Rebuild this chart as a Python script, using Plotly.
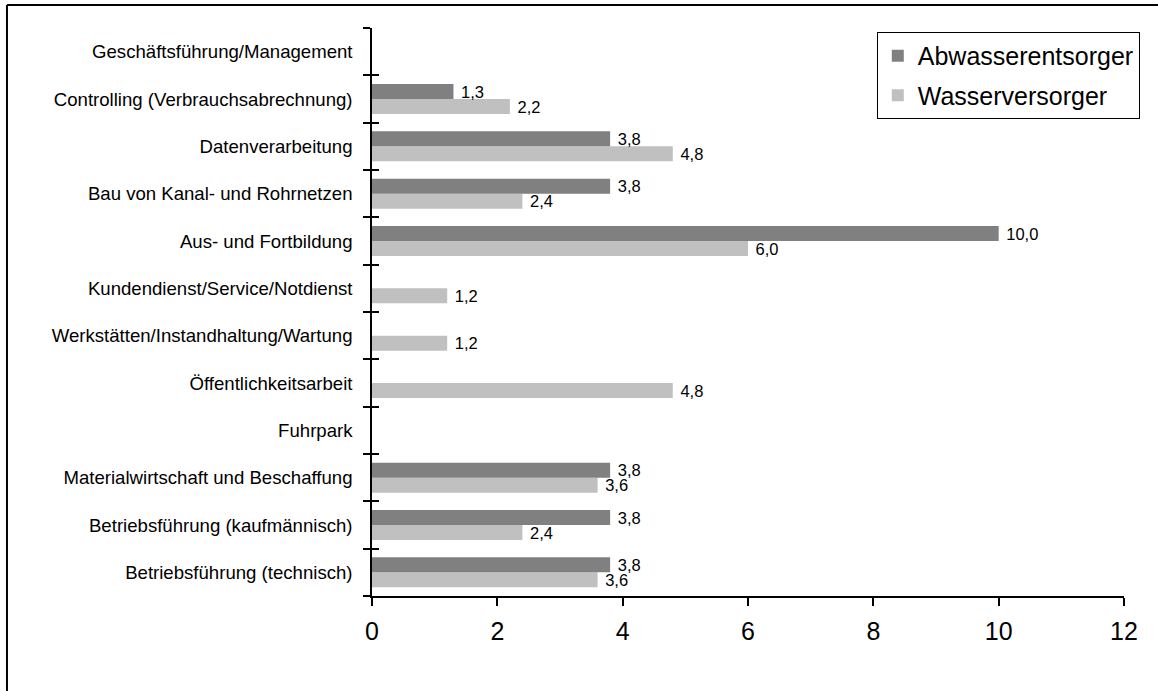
import plotly.graph_objects as go

# Categories listed bottom to top (Plotly draws the first category at the bottom)
categories = [
    "Betriebsführung (technisch)",
    "Betriebsführung (kaufmännisch)",
    "Materialwirtschaft und Beschaffung",
    "Fuhrpark",
    "Öffentlichkeitsarbeit",
    "Werkstätten/Instandhaltung/Wartung",
    "Kundendienst/Service/Notdienst",
    "Aus- und Fortbildung",
    "Bau von Kanal- und Rohrnetzen",
    "Datenverarbeitung",
    "Controlling (Verbrauchsabrechnung)",
    "Geschäftsführung/Management",
]

abwasser = [3.8, 3.8, 3.8, None, None, None, None, 10.0, 3.8, 3.8, 1.3, None]
wasser = [3.6, 2.4, 3.6, None, 4.8, 1.2, 1.2, 6.0, 2.4, 4.8, 2.2, None]

x_ticks = [0, 2, 4, 6, 8, 10, 12]

DARK = "#808080"
LIGHT = "#c0c0c0"
FONT = "Liberation Sans, Arial, sans-serif"

fig = go.Figure()

# Wasserversorger first so that it sits below the Abwasserentsorger bar in each group
fig.add_trace(go.Bar(
    name="Wasserversorger", legendgroup="w", legendrank=2,
    y=categories, x=wasser, orientation="h",
    marker=dict(color=LIGHT, line=dict(width=0)),
    texttemplate=" %{x:.1f}", textposition="outside",
    textfont=dict(family=FONT, size=16.5, color="black"),
    constraintext="none", cliponaxis=False,
))
fig.add_trace(go.Bar(
    name="Abwasserentsorger", legendgroup="a", legendrank=1,
    y=categories, x=abwasser, orientation="h",
    marker=dict(color=DARK, line=dict(width=0)),
    texttemplate=" %{x:.1f}", textposition="outside",
    textfont=dict(family=FONT, size=16.5, color="black"),
    constraintext="none", cliponaxis=False,
))

fig.update_layout(
    width=1158, height=691,
    margin=dict(l=372, r=34, t=28, b=95),
    paper_bgcolor="white", plot_bgcolor="white",
    separators=",.",
    barmode="group", bargap=0.366, bargroupgap=0,
    font=dict(family=FONT, color="black"),
    showlegend=True,
    legend=dict(
        traceorder="grouped", tracegroupgap=4,
        x=1.021, y=0.993, xanchor="right", yanchor="top",
        bgcolor="white", bordercolor="black", borderwidth=1,
        font=dict(family=FONT, size=25, color="black"),
        itemsizing="constant",
    ),
    xaxis=dict(
        range=[0, 12], tickvals=x_ticks, ticktext=[str(v) for v in x_ticks],
        showgrid=False, zeroline=False,
        showline=True, linecolor="black", linewidth=1.5,
        ticks="outside", ticklen=8, tickwidth=1.5, tickcolor="black",
        tickfont=dict(family=FONT, size=25, color="black"),
        ticklabelstandoff=4,
    ),
    yaxis=dict(
        categoryorder="array", categoryarray=categories,
        range=[-0.5, len(categories) - 0.5],
        showgrid=False, zeroline=False,
        showline=True, linecolor="black", linewidth=1.5,
        ticks="outside", tickson="boundaries", ticklen=7, tickwidth=1.5,
        tickcolor="black",
        tickfont=dict(family=FONT, size=18.6, color="black"),
        ticklabelstandoff=14,
    ),
    yaxis2=dict(
        overlaying="y", matches="y", side="left",
        categoryorder="array", categoryarray=categories,
        showgrid=False, zeroline=False, showline=False,
        ticks="inside", tickson="boundaries", ticklen=7, tickwidth=1.5,
        tickcolor="black", showticklabels=False,
    ),
    shapes=[
        # outer frame: top and left edges
        dict(type="line", xref="paper", yref="paper",
             x0=-0.4854, x1=1.1, y0=1.0405, y1=1.0405,
             line=dict(color="black", width=2)),
        dict(type="line", xref="paper", yref="paper",
             x0=-0.4854, x1=-0.4854, y0=-0.3, y1=1.0405,
             line=dict(color="black", width=2)),
    ],
)

# invisible trace binding the secondary y axis so its inner ticks are drawn
fig.add_trace(go.Bar(
    y=categories, x=[None] * len(categories), orientation="h",
    yaxis="y2", showlegend=False, hoverinfo="skip",
))

fig.write_html("out.html")
